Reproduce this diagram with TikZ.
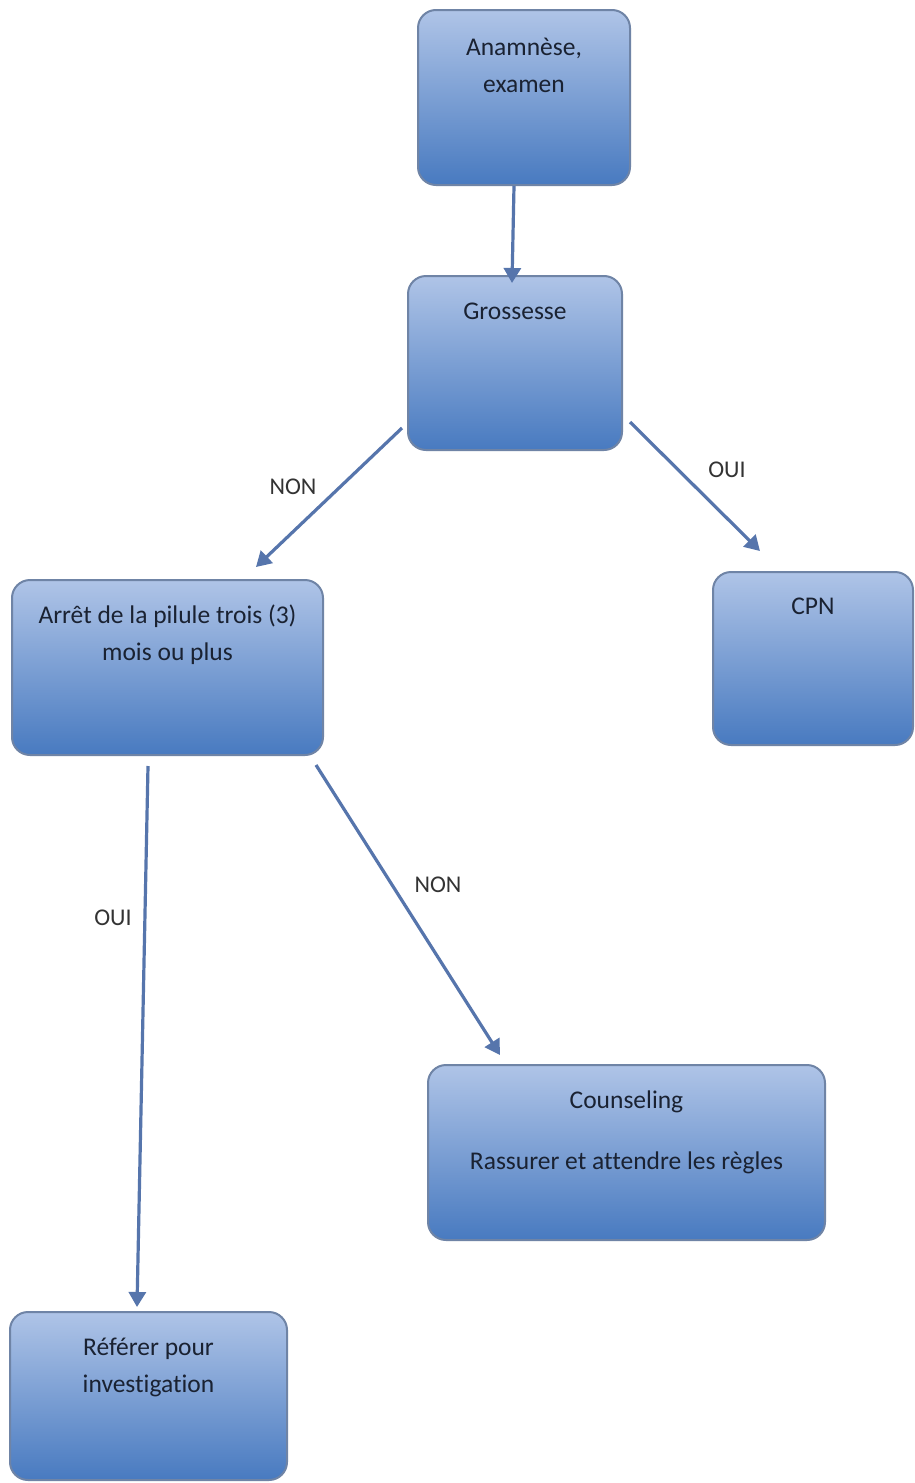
\documentclass[tikz,border=0pt]{standalone}
\usepackage{fontspec}
\setmainfont[Ligatures=NoCommon]{Carlito}
\usetikzlibrary{arrows.meta}
\definecolor{boxtop}{HTML}{AFC4E7}
\definecolor{boxbot}{HTML}{487AC0}
\definecolor{boxline}{HTML}{6F84A6}
\definecolor{arrowcol}{HTML}{5675AC}
\definecolor{txtcol}{HTML}{1A2232}
\tikzset{
  flowbox/.style={draw=boxline, line width=2pt, rounded corners=18pt,
    top color=boxtop, bottom color=boxbot, inner sep=0pt},
  boxtext/.style={anchor=north, inner sep=0pt, align=center, text=txtcol,
    font=\fontsize{25.5}{37}\selectfont},
  choice/.style={inner sep=0pt, text=black!80, font=\fontsize{24}{29}\selectfont},
  flow/.style={draw=arrowcol, line width=3.2pt,
    -{Triangle[width=17pt,length=15pt]}}
}
\begin{document}
\begin{tikzpicture}[x=1pt,y=-1pt]
\useasboundingbox[fill=white] (0,0) rectangle (915,1483);

% boxes
\node[flowbox, minimum width=212pt, minimum height=175pt] (ana) at (524,97.5) {};
\node[flowbox, minimum width=214pt, minimum height=174pt] (gro) at (515,363) {};
\node[flowbox, minimum width=311pt, minimum height=175pt] (arr) at (167.5,667.5) {};
\node[flowbox, minimum width=200pt, minimum height=173pt] (cpn) at (813,658.5) {};
\node[flowbox, minimum width=397pt, minimum height=175pt] (cou) at (626.5,1152.5) {};
\node[flowbox, minimum width=277pt, minimum height=168pt] (ref) at (148.5,1396) {};

% box texts
\node[boxtext] (anat) at ([yshift=-20pt]ana.north) {\strut Anamnèse,\\examen};
\node[boxtext] (grot) at ([yshift=-18.5pt]gro.north) {\strut Grossesse};
\node[boxtext] (arrt) at ([yshift=-18.5pt]arr.north) {\strut Arrêt de la pilule trois (3)\\mois ou plus};
\node[boxtext] (cpnt) at ([yshift=-17pt]cpn.north) {\strut CPN};
\node[boxtext] (cout) at ([yshift=-18.5pt]cou.north) {\strut Counseling\\[24pt]Rassurer et attendre les règles};
\node[boxtext] (reft) at ([yshift=-18.5pt]ref.north) {\strut Référer pour\\investigation};

% connector ends
\coordinate (a1s) at (514,186);  \coordinate (a1e) at (512,283);
\coordinate (a2s) at (402,428);  \coordinate (a2e) at (256,567);
\coordinate (a3s) at (630,422);  \coordinate (a3e) at (760,551);
\coordinate (a4s) at (148,766);  \coordinate (a4e) at (137,1307);
\coordinate (a5s) at (316,765);  \coordinate (a5e) at (500,1055);

\draw[flow] (a1s) -- (a1e);
\draw[flow] (a2s) -- (a2e);
\draw[flow] (a3s) -- (a3e);
\draw[flow] (a4s) -- (a4e);
\draw[flow] (a5s) -- (a5e);

% branch labels
\node[choice] (l1) at (293,487) {NON};
\node[choice] (l2) at (727,470) {OUI};
\node[choice] (l3) at (438,885) {NON};
\node[choice] (l4) at (113,918) {OUI};
\end{tikzpicture}
\end{document}
